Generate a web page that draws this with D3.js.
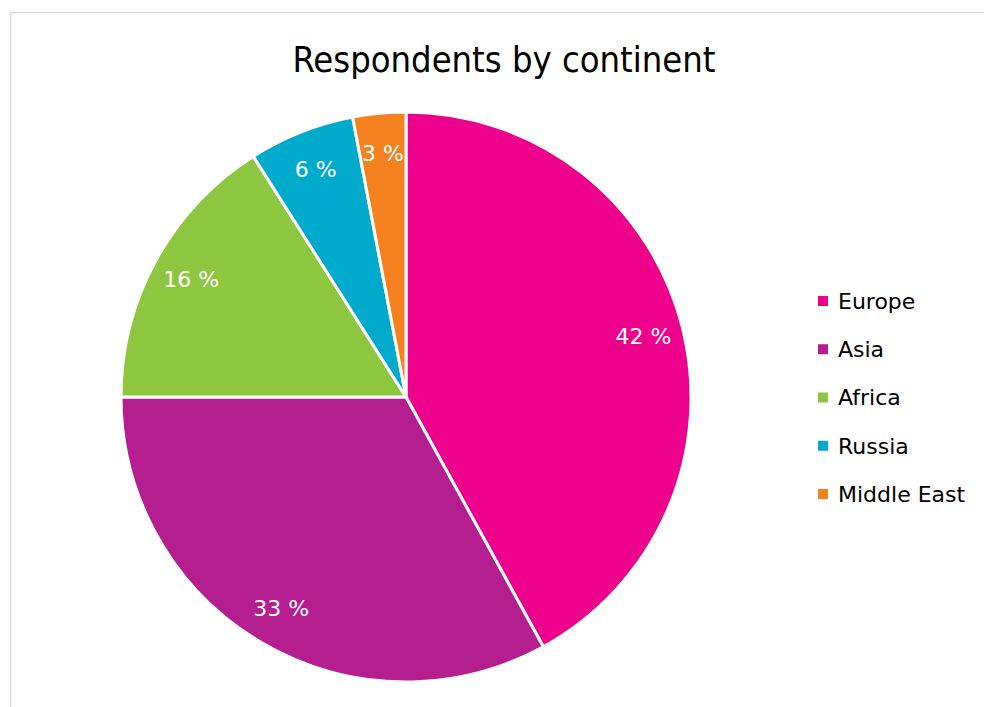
<!DOCTYPE html>
<html>
<head>
<meta charset="utf-8">
<script src="https://cdn.jsdelivr.net/npm/d3@7"></script>
<style>
  body { margin: 0; background: #fff; }
  svg { display: block; font-family: "DejaVu Sans", sans-serif; }
</style>
</head>
<body>
<script>
var width = 984,
  height = 707;

var categories = ["Europe", "Asia", "Africa", "Russia", "Middle East"];
var shares = [42, 33, 16, 6, 3];
var labels = ["42 %", "33 %", "16 %", "6 %", "3 %"];
var colors = ["#ec008c", "#b41e8e", "#8dc63f", "#00aacc", "#f5821f"];
var title = "Respondents by continent";

var cx = 406, cy = 397, radius = 285;

var color = d3.scaleOrdinal()
              .domain(categories)
              .range(colors);

function drawFrame(svg) {
  svg.append("rect")
     .attr("x", 10.5)
     .attr("y", 12.5)
     .attr("width", width)
     .attr("height", height)
     .style("fill", "none")
     .style("stroke", "#d9d9d9")
     .style("stroke-width", 1.5);

  svg.append("text")
     .attr("x", 504)
     .attr("y", 72)
     .attr("text-anchor", "middle")
     .style("font-family", "'DejaVu Sans Condensed', 'DejaVu Sans', sans-serif")
     .style("font-size", "36px")
     .style("fill", "#000")
     .text(title);
}

function drawPie(svg) {
  var data = categories.map(function(c, i) {
    return { name: c, value: shares[i], label: labels[i] };
  });

  var pie = d3.pie()
              .sort(null)
              .value(function(d) { return d.value; });

  var arc = d3.arc()
              .innerRadius(0)
              .outerRadius(radius);

  var labelArc = d3.arc()
                   .innerRadius(radius * 0.86)
                   .outerRadius(radius * 0.86);

  var g = svg.append("g")
             .attr("transform", "translate(" + cx + "," + cy + ")");

  g.selectAll("path")
   .data(pie(data))
   .enter()
   .append("path")
   .attr("d", arc)
   .style("fill", function(d) { return color(d.data.name); })
   .style("stroke", "#fff")
   .style("stroke-width", 3);

  g.selectAll("text")
   .data(pie(data))
   .enter()
   .append("text")
   .attr("transform", function(d) {
     var c = labelArc.centroid(d);
     return "translate(" + c[0] + "," + c[1] + ")";
   })
   .attr("text-anchor", "middle")
   .attr("dy", "0.36em")
   .style("font-size", "22px")
   .style("fill", "#fff")
   .text(function(d) { return d.data.label; });
}

function drawLegend(svg) {
  var y = d3.scalePoint()
            .domain(categories)
            .range([301, 494]);

  var items = svg.selectAll(".legend")
                 .data(categories)
                 .enter()
                 .append("g")
                 .attr("class", "legend")
                 .attr("transform", function(d) { return "translate(818," + y(d) + ")"; });

  items.append("rect")
       .attr("x", 0)
       .attr("y", -5)
       .attr("width", 10)
       .attr("height", 10)
       .style("fill", function(d) { return color(d); });

  items.append("text")
       .attr("x", 20)
       .attr("dy", "0.36em")
       .style("font-size", "22px")
       .style("fill", "#000")
       .text(function(d) { return d; });
}

var svg = d3.select("body").append("svg")
            .attr("width", width)
            .attr("height", height);

drawFrame(svg);
drawPie(svg);
drawLegend(svg);
</script>
</body>
</html>
